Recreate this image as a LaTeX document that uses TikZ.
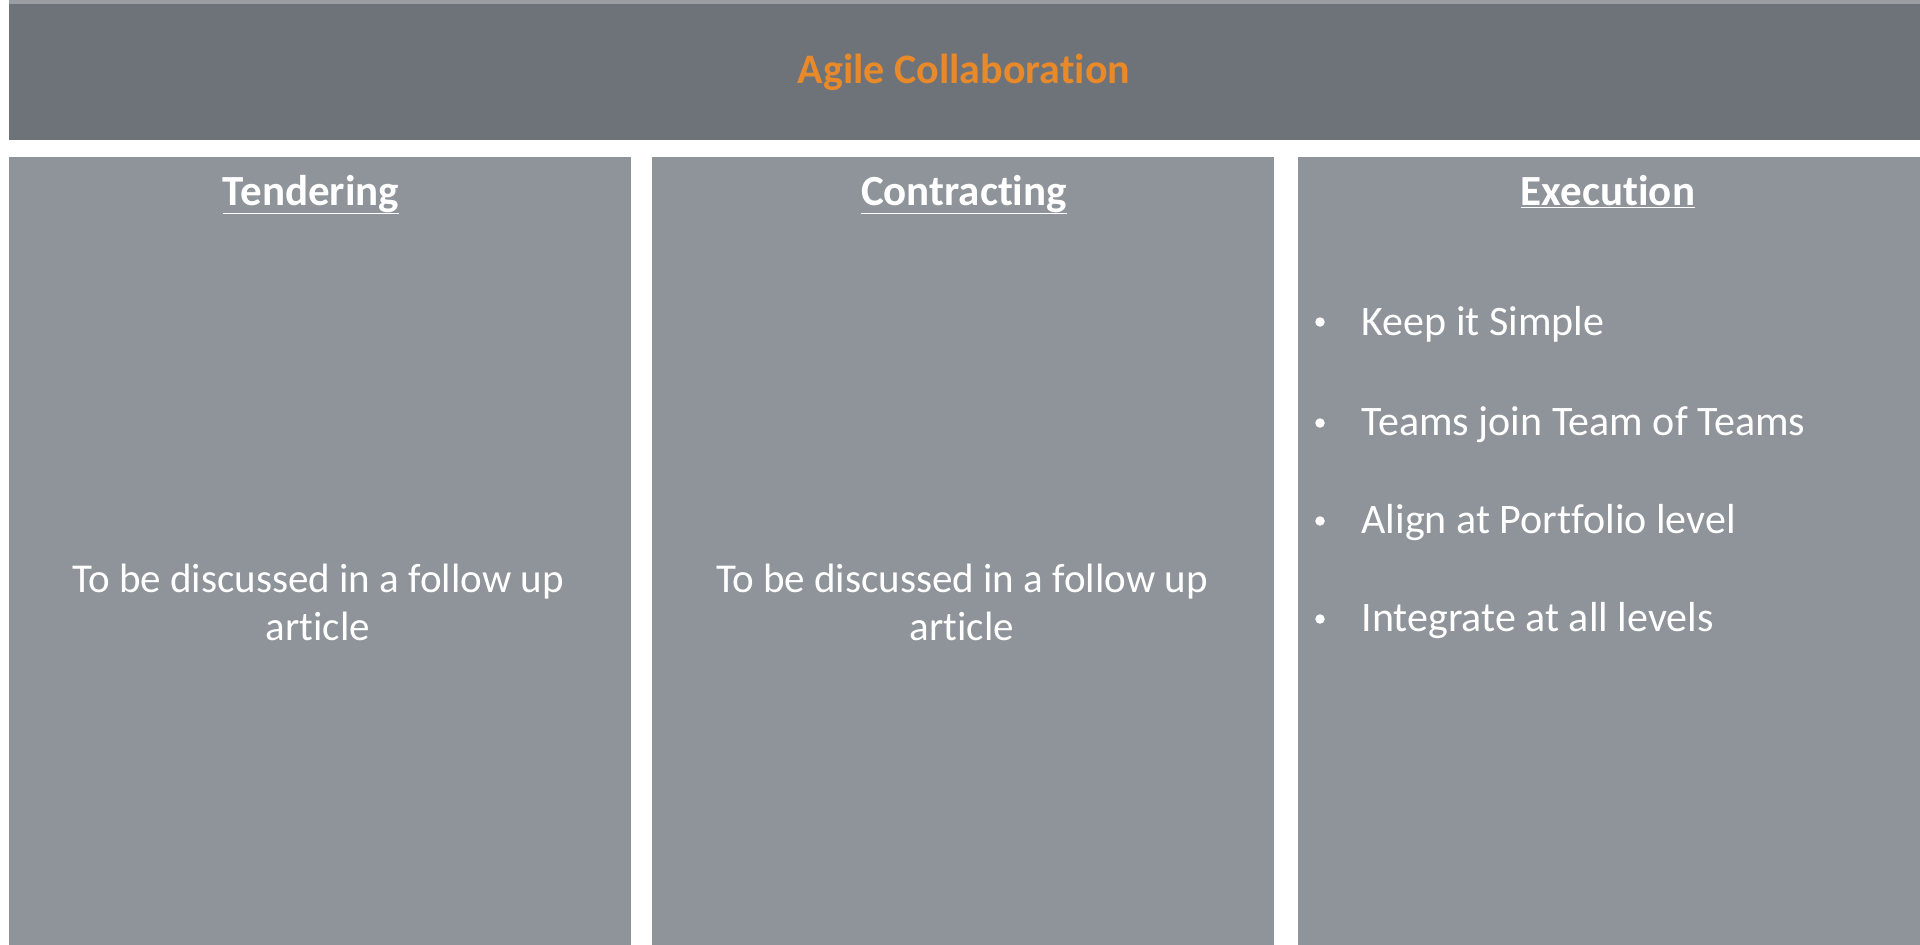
\documentclass[tikz,border=0pt]{standalone}
\usepackage{fontspec}
\setmainfont{Carlito}[Ligatures={NoCommon}]
\begin{document}
\begin{tikzpicture}[x=1pt,y=-1pt,
  panel/.style={fill=colbg,draw=none},
  head/.style={text=white,font=\fontsize{43}{50}\selectfont\bfseries,anchor=base},
  body/.style={text=white,font=\fontsize{41}{48}\selectfont,align=center,anchor=center},
  item/.style={text=white,font=\fontsize{42}{48}\selectfont,anchor=west},
  dot/.style={fill=white,circle,inner sep=0pt,minimum size=9.5pt}]
\definecolor{hdrbg}{HTML}{6E737A}
\definecolor{colbg}{HTML}{8F949A}
\definecolor{topstrip}{HTML}{9A9EA3}
\definecolor{orange}{HTML}{E8892A}
\useasboundingbox (0,0) rectangle (1920,945);
\fill[white] (0,0) rectangle (1920,945);
\fill[topstrip] (9,0) rectangle (1920,4);
\fill[hdrbg] (9,4) rectangle (1920,140);
\node[text=orange,font=\fontsize{42}{50}\selectfont\bfseries] (title) at (964,72) {Agile Collaboration};
\fill[panel] (9,157) rectangle (631,945);
\fill[panel] (652,157) rectangle (1274,945);
\fill[panel] (1298,157) rectangle (1920,945);
\node[head] (h1) at (311,205) {\underline{Tendering}};
\node[head] (h2) at (964,205) {\underline{Contracting}};
\node[head] (h3) at (1608,205) {\underline{Execution}};
\node[body] (b1) at (318,602) {To be discussed in a follow up\\article};
\node[body] (b2) at (962,602) {To be discussed in a follow up\\article};
\node[dot] (d1) at (1320,322) {};
\node[item] (i1) at (1358,324) {Keep it Simple};
\node[dot] (d2) at (1320,423) {};
\node[item] (i2) at (1358,425) {Teams join Team of Teams};
\node[dot] (d3) at (1320,521) {};
\node[item] (i3) at (1358,523) {Align at Portfolio level};
\node[dot] (d4) at (1320,619) {};
\node[item] (i4) at (1358,621) {Integrate at all levels};
\end{tikzpicture}
\end{document}
